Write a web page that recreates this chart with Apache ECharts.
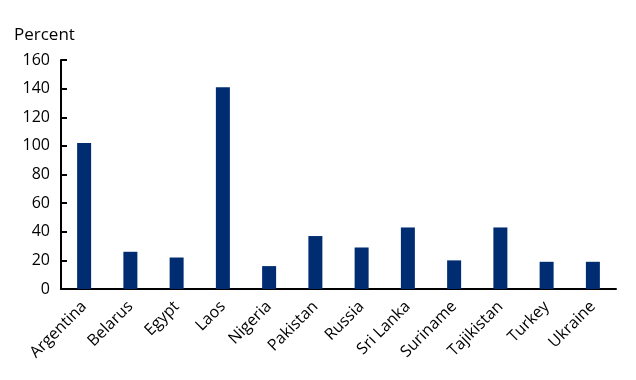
<!DOCTYPE html>
<html><head><meta charset="utf-8">
<script src="https://cdn.jsdelivr.net/npm/echarts@6/dist/echarts.min.js"></script>
<style>html,body{margin:0;padding:0;background:#fff}#c{width:636px;height:380px}</style>
</head><body><div id="c"></div>
<script>
var categories = ["Argentina","Belarus","Egypt","Laos","Nigeria","Pakistan","Russia","Sri Lanka","Suriname","Tajikistan","Turkey","Ukraine"];
var values = [102, 26, 22, 141, 16, 37, 29, 43, 20, 43, 19, 19];
var yTicks = [0, 20, 40, 60, 80, 100, 120, 140, 160];
var chart = echarts.init(document.getElementById('c'));
var font = "'Open Sans', 'Liberation Sans', sans-serif";
chart.setOption({
  animation: false,
  grid: {left: 61, right: 20, top: 60, bottom: 91},
  graphic: [{type: 'text', left: 14, top: 27, style: {text: 'Percent', font: '17px ' + font, fill: '#000'}}],
  xAxis: {
    type: 'category', data: categories,
    axisLine: {lineStyle: {color: '#000', width: 2}},
    axisTick: {show: false},
    axisLabel: {rotate: 45, color: '#000', fontSize: 16, fontFamily: font, margin: 15, interval: 0}
  },
  yAxis: {
    type: 'value', min: yTicks[0], max: yTicks[yTicks.length-1], interval: 20,
    axisLine: {show: true, lineStyle: {color: '#000', width: 2}},
    axisTick: {show: true, inside: true, length: 6, lineStyle: {color: '#000', width: 2}},
    splitLine: {show: false},
    axisLabel: {color: '#000', fontSize: 16, fontFamily: font, margin: 11}
  },
  series: [{
    type: 'bar', data: values, barWidth: 14,
    itemStyle: {color: '#002D72'}
  }]
});
</script></body></html>
